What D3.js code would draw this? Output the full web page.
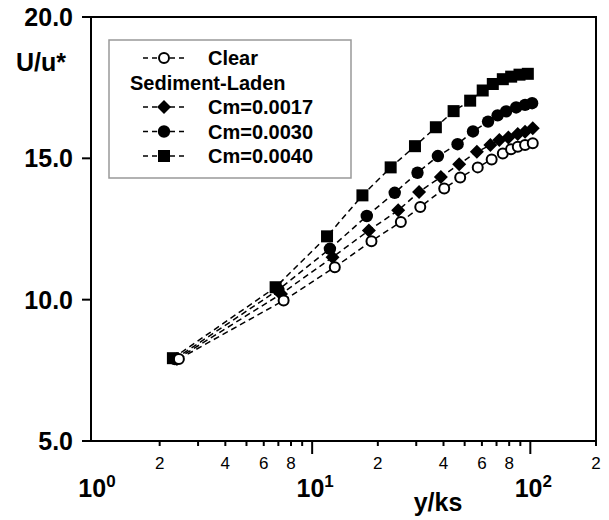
<!DOCTYPE html>
<html>
  <head>
    <meta charset="utf-8">
    <title>U/u* vs y/ks</title>
    <script src="https://d3js.org/d3.v7.min.js"></script>
    <style>
      body { margin: 0; background: #ffffff; }
      text { font-family: "Liberation Sans", Arial, sans-serif; }
    </style>
  </head>
  <body>
    <svg width="609" height="520"></svg>
    <script>
      // y/ks and U/u*
      var clearX = [2.45, 7.4, 12.7, 18.7, 25.5, 31.3, 40.3, 47.7, 57.4, 66.5, 74.8, 81.6, 87.6, 94.6, 102.6];
      var clearU = [7.9, 9.97, 11.15, 12.07, 12.75, 13.28, 13.93, 14.32, 14.68, 14.96, 15.17, 15.32, 15.41, 15.47, 15.53];

      var cm17X = [2.4, 7.2, 12.4, 18.2, 24.8, 30.9, 38.9, 47.2, 56.9, 65.6, 72.1, 79.3, 87.6, 94.6, 102.6];
      var cm17U = [7.9, 10.2, 11.5, 12.45, 13.16, 13.81, 14.34, 14.79, 15.23, 15.47, 15.65, 15.74, 15.86, 15.94, 16.06];

      var cm30X = [2.35, 7.0, 12.06, 17.8, 23.9, 30.4, 37.7, 46.4, 54.6, 64.0, 70.8, 77.4, 86.1, 94.6, 101.9];
      var cm30U = [7.9, 10.35, 11.8, 12.96, 13.78, 14.49, 15.08, 15.5, 15.95, 16.3, 16.52, 16.66, 16.8, 16.89, 16.95];

      var cm40X = [2.3, 6.8, 11.7, 17.0, 22.9, 29.6, 36.9, 44.5, 53.0, 60.5, 67.3, 74.8, 81.7, 89.2, 97.4];
      var cm40U = [7.93, 10.44, 12.24, 13.69, 14.68, 15.43, 16.1, 16.67, 17.04, 17.4, 17.63, 17.8, 17.89, 17.96, 17.99];

      var yTicks = [5, 10, 15, 20];
      var majorX = [1, 10, 100];
      var minorX = [2, 3, 4, 5, 6, 7, 8, 9, 20, 30, 40, 50, 60, 70, 80, 90, 200];
      var minorLabelX = [2, 4, 6, 8, 20, 40, 60, 80, 200];

      var series = [
        { name: "Clear", x: clearX, y: clearU, symbol: "openCircle" },
        { name: "Cm=0.0017", x: cm17X, y: cm17U, symbol: "diamond" },
        { name: "Cm=0.0030", x: cm30X, y: cm30U, symbol: "circle" },
        { name: "Cm=0.0040", x: cm40X, y: cm40U, symbol: "square" }
      ];

      var svg = d3.select("svg");

      var xScale = d3.scaleLog()
          .domain([0.969, 200])
          .range([91, 596]);

      var yScale = d3.scaleLinear()
          .domain([5, 20])
          .range([441, 17]);

      var x0 = xScale.range()[0], x1 = xScale.range()[1];
      var y0 = yScale.range()[0], y1 = yScale.range()[1];

      // frame
      svg.append("path")
          .attr("d", "M" + x0 + "," + y1 + "H" + x1 + "V" + y0 + "H" + x0 + "Z")
          .attr("fill", "none")
          .attr("stroke", "#000")
          .attr("stroke-width", 2);

      // y ticks
      svg.selectAll(".ytick")
          .data(yTicks)
          .enter()
          .append("line")
          .attr("x1", x0 - 9)
          .attr("x2", x0)
          .attr("y1", function(d) { return yScale(d); })
          .attr("y2", function(d) { return yScale(d); })
          .attr("stroke", "#000")
          .attr("stroke-width", 2);

      svg.selectAll(".ylabel")
          .data(yTicks)
          .enter()
          .append("text")
          .attr("x", x0 - 18)
          .attr("y", function(d) { return yScale(d) + 9; })
          .attr("text-anchor", "end")
          .style("font-size", "25px")
          .style("font-weight", "bold")
          .text(function(d) { return d.toFixed(1); });

      svg.append("text")
          .attr("x", 41)
          .attr("y", 71)
          .attr("text-anchor", "middle")
          .style("font-size", "25px")
          .style("font-weight", "bold")
          .text("U/u*");

      // x ticks
      svg.selectAll(".xminor")
          .data(minorX)
          .enter()
          .append("line")
          .attr("x1", function(d) { return xScale(d); })
          .attr("x2", function(d) { return xScale(d); })
          .attr("y1", y0)
          .attr("y2", y0 + 5)
          .attr("stroke", "#000")
          .attr("stroke-width", 2);

      svg.selectAll(".xmajor")
          .data(majorX.slice(1))
          .enter()
          .append("line")
          .attr("x1", function(d) { return xScale(d); })
          .attr("x2", function(d) { return xScale(d); })
          .attr("y1", y0)
          .attr("y2", y0 + 13)
          .attr("stroke", "#000")
          .attr("stroke-width", 2);

      svg.selectAll(".xminorlabel")
          .data(minorLabelX)
          .enter()
          .append("text")
          .attr("x", function(d) { return xScale(d); })
          .attr("y", 469)
          .attr("text-anchor", "middle")
          .style("font-size", "17px")
          .text("2");

      svg.selectAll("text")
          .filter(function(d) { return minorLabelX.indexOf(d) >= 0 && this.getAttribute("y") == "469"; })
          .text(function(d) { return String(d).charAt(0); });

      var majorLabels = svg.selectAll(".xmajorlabel")
          .data(majorX)
          .enter()
          .append("text")
          .attr("x", function(d) { return xScale(d) + 3; })
          .attr("y", 497)
          .attr("text-anchor", "middle")
          .style("font-size", "25px")
          .style("font-weight", "bold");

      majorLabels.append("tspan").text("10");
      majorLabels.append("tspan")
          .attr("dy", -10)
          .style("font-size", "17px")
          .text(function(d) { return Math.round(Math.log10(d)); });

      svg.append("text")
          .attr("x", 438)
          .attr("y", 511)
          .attr("text-anchor", "middle")
          .style("font-size", "25px")
          .style("font-weight", "bold")
          .text("y/ks");

      // markers
      function drawSymbol(g, type, cx, cy) {
        if (type == "openCircle") {
          g.append("circle").attr("cx", cx).attr("cy", cy).attr("r", 5)
              .attr("fill", "#fff").attr("stroke", "#000").attr("stroke-width", 2);
        } else if (type == "circle") {
          g.append("circle").attr("cx", cx).attr("cy", cy).attr("r", 6.2).attr("fill", "#000");
        } else if (type == "square") {
          g.append("rect").attr("x", cx - 6).attr("y", cy - 6).attr("width", 12).attr("height", 12).attr("fill", "#000");
        } else {
          g.append("path")
              .attr("d", "M" + cx + "," + (cy - 7) + "L" + (cx + 7) + "," + cy + "L" + cx + "," + (cy + 7) + "L" + (cx - 7) + "," + cy + "Z")
              .attr("fill", "#000");
        }
      }

      var line = d3.line()
          .x(function(d) { return xScale(d[0]); })
          .y(function(d) { return yScale(d[1]); });

      series.forEach(function(s) {
        var pts = s.x.map(function(v, i) { return [v, s.y[i]]; });
        svg.append("path")
            .datum(pts)
            .attr("d", line)
            .attr("fill", "none")
            .attr("stroke", "#000")
            .attr("stroke-width", 1.5)
            .attr("stroke-dasharray", "6,4");
      });

      series.slice().reverse().forEach(function(s) {
        var g = svg.append("g");
        s.x.forEach(function(v, i) {
          drawSymbol(g, s.symbol, xScale(v), yScale(s.y[i]));
        });
      });

      // legend
      var legend = svg.append("g");
      legend.append("rect")
          .attr("x", 109)
          .attr("y", 40)
          .attr("width", 242)
          .attr("height", 138)
          .attr("fill", "#fff")
          .attr("stroke", "#999")
          .attr("stroke-width", 1.5);

      var legendRows = [58, 107, 131.5, 156];
      series.forEach(function(s, i) {
        var ly = legendRows[i];
        legend.append("line")
            .attr("x1", 143).attr("x2", 185)
            .attr("y1", ly).attr("y2", ly)
            .attr("stroke", "#000")
            .attr("stroke-width", 1.5)
            .attr("stroke-dasharray", "5,4");
        drawSymbol(legend, s.symbol, 164, ly);
        legend.append("text")
            .attr("x", 208)
            .attr("y", ly + 7)
            .style("font-size", "20px")
            .style("font-weight", "bold")
            .text(s.name);
      });

      legend.append("text")
          .attr("x", 130)
          .attr("y", 89.5)
          .style("font-size", "20px")
          .style("font-weight", "bold")
          .text("Sediment-Laden");
    </script>
  </body>
</html>
